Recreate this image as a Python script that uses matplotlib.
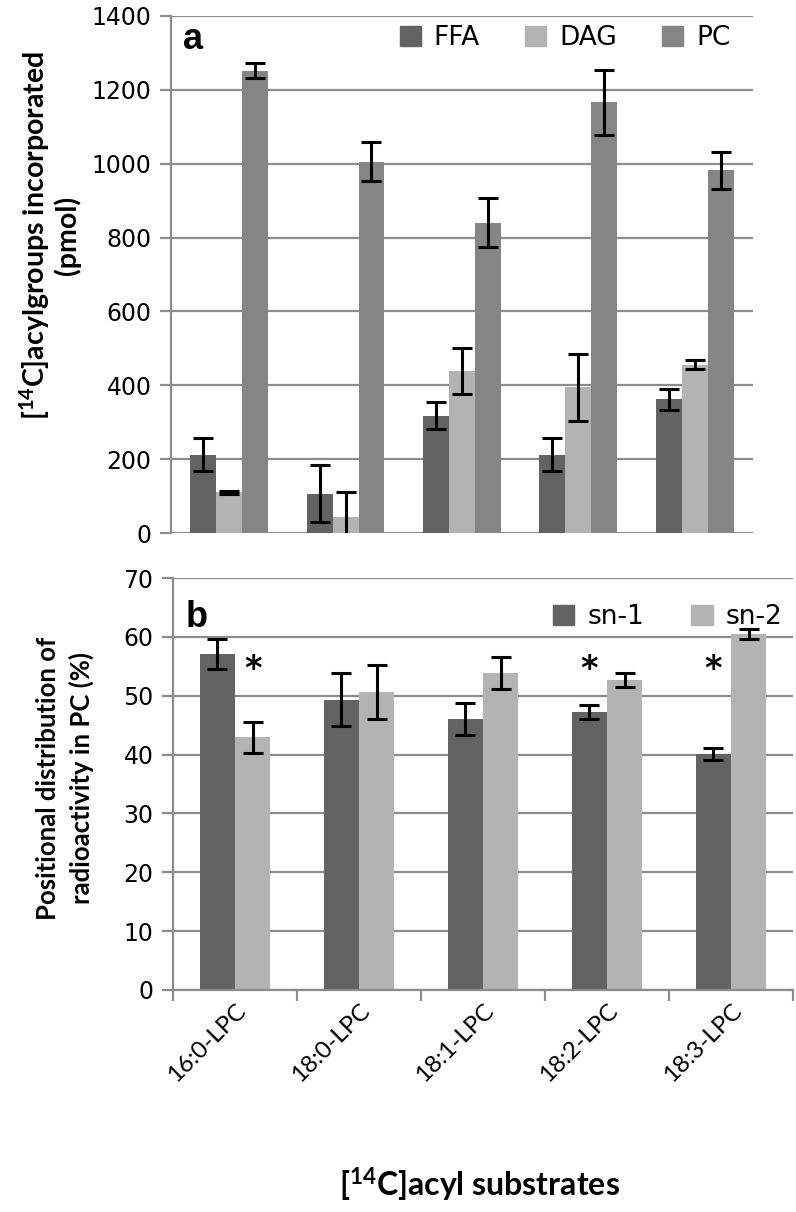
import numpy as np
import matplotlib
matplotlib.use('Agg')
import matplotlib.pyplot as plt
from matplotlib.patches import Patch

plt.rcParams['mathtext.default'] = 'regular'

# substrates (x categories)
substrates = ['16:0-LPC', '18:0-LPC', '18:1-LPC', '18:2-LPC', '18:3-LPC']

# panel a: [14C]acyl groups incorporated (pmol)
ffa = [212, 107, 318, 212, 362]
ffa_err = [44, 78, 36, 45, 28]
dag = [110, 43, 438, 395, 456]
dag_err = [5, 67, 62, 91, 12]
pc = [1252, 1006, 840, 1166, 982]
pc_err = [21, 54, 66, 87, 50]

# panel b: positional distribution in PC (%)
sn1 = [57.1, 49.3, 46.0, 47.3, 40.1]
sn1_err = [2.5, 4.5, 2.7, 1.2, 1.0]
sn2 = [42.9, 50.7, 53.9, 52.7, 60.5]
sn2_err = [2.6, 4.6, 2.7, 1.2, 0.9]
# which bar carries the significance star (None = no star)
star_on = ['sn-2', None, None, 'sn-1', 'sn-1']
star_level = 54.5

c_dark = '#636363'
c_light = '#b3b3b3'
c_mid = '#858585'
c_grid = '#8c8c8c'

fig = plt.figure(figsize=(7.96, 12.12), dpi=100)
ax_a = fig.add_axes([0.2148, 0.5602, 0.731, 0.4266])
ax_b = fig.add_axes([0.2173, 0.1832, 0.779, 0.3399])

x = np.arange(len(substrates))
err_kw = dict(ecolor='black', elinewidth=2.2, capsize=7.5, capthick=2.2)


def style_axis(ax):
    for s in ['top', 'right', 'bottom']:
        ax.spines[s].set_visible(False)
    ax.spines['left'].set_color(c_grid)
    ax.spines['left'].set_linewidth(1.6)
    ax.yaxis.grid(True, color=c_grid, linewidth=1.6)
    ax.set_axisbelow(True)
    ax.tick_params(axis='y', direction='out', length=8, width=1.6, color=c_grid,
                   labelsize=17, pad=6)
    ax.set_xlim(-0.5, len(substrates) - 0.5)


# ---- panel a
w = 0.223
ax_a.bar(x - w, ffa, w, yerr=ffa_err, color=c_dark, label='FFA', error_kw=err_kw)
ax_a.bar(x, dag, w, yerr=dag_err, color=c_light, label='DAG', error_kw=err_kw)
ax_a.bar(x + w, pc, w, yerr=pc_err, color=c_mid, label='PC', error_kw=err_kw)
style_axis(ax_a)
ax_a.set_ylim(0, 1400)
ax_a.set_yticks(range(0, 1401, 200))
ax_a.set_xticks([])
ax_a.text(0.02, 0.955, 'a', transform=ax_a.transAxes, fontsize=26, fontweight='bold',
          family='Liberation Sans', va='center')
handles = [Patch(color=c_dark), Patch(color=c_light), Patch(color=c_mid)]
ax_a.legend(handles, ['FFA', 'DAG', 'PC'], ncol=3, frameon=False, fontsize=19,
            loc='center', bbox_to_anchor=(0.677, 0.957), handlelength=0.8, handleheight=0.8,
            handletextpad=0.5, columnspacing=1.7, borderaxespad=0)
fig.text(0.062, 0.806, '[$^{14}$C]acylgroups incorporated\n(pmol)', rotation=90,
         ha='center', va='center', fontsize=20.5, fontweight='bold', family='Lato',
         multialignment='center', linespacing=1.05)

# ---- panel b
wb = 0.285
ax_b.bar(x - wb / 2, sn1, wb, yerr=sn1_err, color=c_dark, label='sn-1', error_kw=err_kw)
ax_b.bar(x + wb / 2, sn2, wb, yerr=sn2_err, color=c_light, label='sn-2', error_kw=err_kw)
style_axis(ax_b)
ax_b.set_ylim(0, 70)
ax_b.set_yticks(range(0, 71, 10))
ax_b.set_xticks(x)
ax_b.set_xticklabels(substrates, rotation=45, ha='right', rotation_mode='anchor',
                     fontsize=17.5, family='Lato')
ax_b.tick_params(axis='x', which='major', length=0, pad=7)
ax_b.set_xticks(np.arange(-0.5, len(substrates)), minor=True)
ax_b.tick_params(axis='x', which='minor', direction='out', length=8, width=1.6, color=c_grid)
ax_b.spines['bottom'].set_visible(True)
ax_b.spines['bottom'].set_color(c_grid)
ax_b.spines['bottom'].set_linewidth(1.6)
for i, s in enumerate(star_on):
    if s is None:
        continue
    sx = x[i] - wb / 2 if s == 'sn-1' else x[i] + wb / 2
    ax_b.text(sx, star_level, '*', ha='center', va='center', fontsize=24, fontweight='bold')
ax_b.text(0.02, 0.905, 'b', transform=ax_b.transAxes, fontsize=26, fontweight='bold',
          family='Liberation Sans', va='center')
ax_b.legend([Patch(color=c_dark), Patch(color=c_light)], ['sn-1', 'sn-2'], ncol=2,
            frameon=False, fontsize=19, loc='center right', bbox_to_anchor=(1.0, 0.905),
            handlelength=0.8, handleheight=0.8, handletextpad=0.5, columnspacing=1.8,
            borderaxespad=0)
fig.text(0.082, 0.358, 'Positional distribution of\nradioactivity in PC (%)', rotation=90,
         ha='center', va='center', fontsize=18.5, fontweight='bold', family='Lato',
         multialignment='center', linespacing=1.4)
fig.text(0.603, 0.022, '[$^{14}$C]acyl substrates', ha='center', va='center', fontsize=23,
         fontweight='bold', family='Lato')

fig.savefig('out.png', dpi=100)
